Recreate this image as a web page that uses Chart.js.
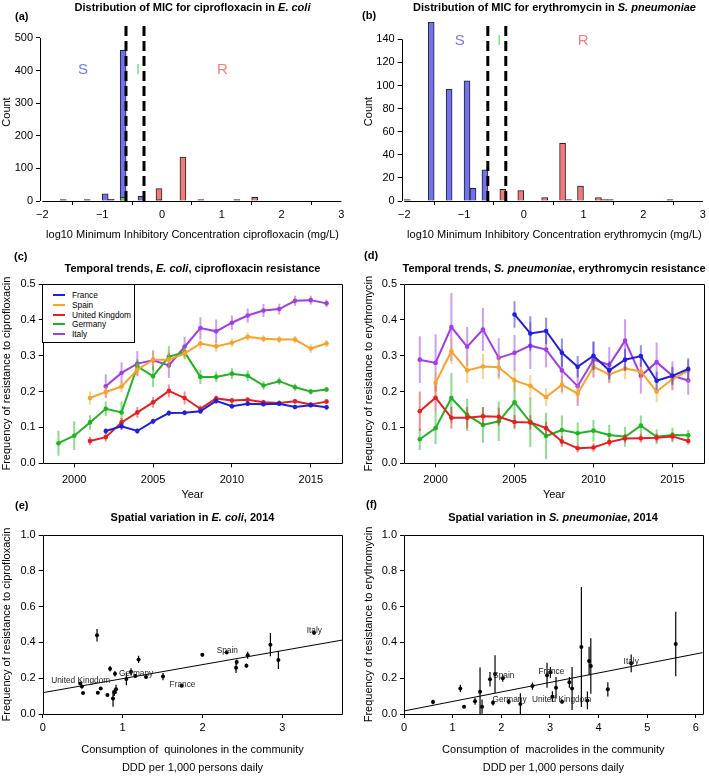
<!DOCTYPE html>
<html>
<head>
<meta charset="utf-8">
<title>MIC distributions and resistance trends</title>
<script src="https://cdn.jsdelivr.net/npm/chart.js@4.4.1/dist/chart.umd.min.js"></script>
<style>
  body { margin: 0; background: #fff; }
  #fig { position: relative; width: 709px; height: 777px; overflow: hidden; font-family: "Liberation Sans", Arial, sans-serif; color: #000; }
  #fig canvas { position: absolute; }
  .ttl { position: absolute; transform: translate(-50%, -50%); font-weight: bold; font-size: 11px; white-space: nowrap; }
  .tag { position: absolute; transform: translateY(-50%); font-weight: bold; font-size: 11px; }
  #legendC { position: absolute; left: 42px; top: 284px; width: 93px; height: 59px; background: #fff; border: 1px solid #000; box-sizing: border-box; font-size: 8.3px; }
  #legendC .swatch { position: absolute; left: 10px; width: 12px; height: 2px; }
  #legendC .lab { position: absolute; left: 29px; transform: translateY(-50%); white-space: nowrap; }
</style>
</head>
<body>
<div id="fig">
  <canvas id="chartA" width="355" height="260" style="left:0px;top:0px"></canvas>
  <canvas id="chartB" width="354" height="260" style="left:355px;top:0px"></canvas>
  <canvas id="chartC" width="355" height="260" style="left:0px;top:260px"></canvas>
  <canvas id="chartD" width="354" height="260" style="left:355px;top:260px"></canvas>
  <canvas id="chartE" width="355" height="257" style="left:0px;top:520px"></canvas>
  <canvas id="chartF" width="354" height="257" style="left:355px;top:520px"></canvas>

  <div class="tag" style="left:15px;top:16px">(a)</div>
  <div class="tag" style="left:362px;top:15px">(b)</div>
  <div class="tag" style="left:14px;top:256px">(c)</div>
  <div class="tag" style="left:364px;top:255px">(d)</div>
  <div class="tag" style="left:15px;top:505px">(e)</div>
  <div class="tag" style="left:366px;top:504px">(f)</div>

  <div class="ttl" style="left:192.5px;top:7px">Distribution of MIC for ciprofloxacin in <i>E. coli</i></div>
  <div class="ttl" style="left:554.5px;top:7px">Distribution of MIC for erythromycin in <i>S. pneumoniae</i></div>
  <div class="ttl" style="left:192.5px;top:268px">Temporal trends, <i>E. coli</i>, ciprofloxacin resistance</div>
  <div class="ttl" style="left:554px;top:268px">Temporal trends, <i>S. pneumoniae</i>, erythromycin resistance</div>
  <div class="ttl" style="left:192.5px;top:517px">Spatial variation in <i>E. coli</i>, 2014</div>
  <div class="ttl" style="left:553px;top:517px">Spatial variation in <i>S. pneumoniae</i>, 2014</div>

  <div id="legendC"></div>
</div>

<script>
// ---------- data ----------

// (a) MIC of ciprofloxacin in E. coli: histogram bin centres (log10 mg/L) and counts
const ecoliSBins = [-1.65, -1.25, -0.95, -0.85, -0.65, -0.35];
const ecoliSCounts = [1, 2, 22, 5, 462, 14];
const ecoliIBins = [-0.65, -0.05];
const ecoliICounts = [12, 3];
const ecoliRBins = [-0.05, 0.35, 0.65, 1.25, 1.55];
const ecoliRCounts = [38, 135, 4, 4, 11];

// (b) MIC of erythromycin in S. pneumoniae
const pneuSBins = [-1.95, -1.55, -1.25, -0.95, -0.85, -0.65];
const pneuSCounts = [1, 155, 97, 104, 11, 27];
const pneuRBins = [-0.35, -0.05, 0.35, 0.65, 0.75, 0.95, 1.25, 1.35, 1.45, 2.45];
const pneuRCounts = [10, 9, 3, 50, 1, 13, 3, 1, 1, 1];

// clinical breakpoints: log10(0.25) and log10(0.5) mg/L
const breakpoints = [-0.602, -0.301];

const micTicks = [-2, -1, 0, 1, 2, 3];
const ecoliCountTicks = [0, 100, 200, 300, 400, 500];
const pneuCountTicks = [0, 20, 40, 60, 80, 100, 120, 140];

// (c), (d) frequency of resistance by year, with error half-widths
const years = [1999, 2000, 2001, 2002, 2003, 2004, 2005, 2006, 2007, 2008, 2009, 2010, 2011, 2012, 2013, 2014, 2015, 2016];
const yearTicks = [2000, 2005, 2010, 2015];
const freqTicksHalf = [0, 0.1, 0.2, 0.3, 0.4, 0.5];
const countries = ['France', 'Spain', 'United Kingdom', 'Germany', 'Italy'];
const countryColors = ['#1f1fdc', '#f7a32b', '#e62020', '#22b322', '#a03ee3'];

const ecoliFrance = [null, null, null, 0.090, 0.103, 0.090, 0.117, 0.140, 0.141, 0.145, 0.174, 0.159, 0.166, 0.165, 0.166, 0.157, 0.162, 0.156];
const ecoliFranceErr = [null, null, null, 0.008, 0.010, 0.008, 0.008, 0.008, 0.007, 0.007, 0.008, 0.007, 0.006, 0.006, 0.006, 0.006, 0.006, 0.006];
const ecoliSpain = [null, null, 0.182, 0.199, 0.214, 0.261, 0.289, 0.289, 0.306, 0.334, 0.326, 0.336, 0.353, 0.347, 0.345, 0.345, 0.320, 0.334];
const ecoliSpainErr = [null, null, 0.018, 0.015, 0.015, 0.018, 0.020, 0.020, 0.015, 0.015, 0.015, 0.012, 0.012, 0.010, 0.010, 0.010, 0.012, 0.010];
const ecoliUK = [null, null, 0.062, 0.073, 0.114, 0.142, 0.170, 0.202, 0.182, 0.152, 0.181, 0.175, 0.177, 0.170, 0.168, 0.173, 0.164, 0.172];
const ecoliUKErr = [null, null, 0.012, 0.012, 0.012, 0.015, 0.015, 0.018, 0.018, 0.010, 0.008, 0.008, 0.008, 0.007, 0.007, 0.007, 0.007, 0.007];
const ecoliGermany = [0.056, 0.077, 0.114, 0.152, 0.142, 0.270, 0.243, 0.297, 0.310, 0.241, 0.241, 0.250, 0.244, 0.217, 0.229, 0.212, 0.200, 0.206];
const ecoliGermanyErr = [0.035, 0.040, 0.020, 0.020, 0.030, 0.020, 0.030, 0.030, 0.020, 0.020, 0.015, 0.015, 0.015, 0.012, 0.010, 0.010, 0.008, 0.007];
const ecoliItaly = [null, null, null, 0.215, 0.252, 0.278, 0.287, 0.273, 0.325, 0.377, 0.368, 0.392, 0.412, 0.426, 0.430, 0.453, 0.455, 0.446];
const ecoliItalyErr = [null, null, null, 0.033, 0.030, 0.035, 0.028, 0.035, 0.028, 0.030, 0.033, 0.020, 0.020, 0.018, 0.015, 0.014, 0.012, 0.010];

const pneuFrance = [null, null, null, null, null, null, 0.415, 0.362, 0.369, 0.308, 0.269, 0.300, 0.259, 0.289, 0.299, 0.230, 0.244, 0.263];
const pneuFranceErr = [null, null, null, null, null, null, 0.037, 0.048, 0.037, 0.040, 0.030, 0.040, 0.025, 0.030, 0.030, 0.025, 0.025, 0.030];
const pneuSpain = [null, 0.224, 0.312, 0.259, 0.270, 0.268, 0.231, 0.216, 0.184, 0.219, 0.194, 0.269, 0.248, 0.264, 0.256, 0.200, 0.235, 0.258];
const pneuSpainErr = [null, 0.030, 0.035, 0.035, 0.035, 0.035, 0.030, 0.030, 0.025, 0.025, 0.025, 0.030, 0.025, 0.030, 0.025, 0.030, 0.030, 0.030];
const pneuUK = [0.145, 0.183, 0.127, 0.127, 0.131, 0.130, 0.115, 0.114, 0.098, 0.061, 0.042, 0.044, 0.059, 0.069, 0.070, 0.071, 0.075, 0.062];
const pneuUKErr = [0.055, 0.040, 0.030, 0.030, 0.025, 0.025, 0.020, 0.020, 0.018, 0.015, 0.012, 0.012, 0.012, 0.012, 0.012, 0.012, 0.012, 0.010];
const pneuGermany = [0.067, 0.098, 0.182, 0.135, 0.107, 0.117, 0.170, 0.115, 0.076, 0.093, 0.084, 0.091, 0.079, 0.074, 0.105, 0.074, 0.079, 0.078];
const pneuGermanyErr = [0.030, 0.045, 0.070, 0.045, 0.050, 0.055, 0.070, 0.070, 0.065, 0.040, 0.030, 0.030, 0.028, 0.028, 0.028, 0.020, 0.020, 0.015];
const pneuItaly = [0.289, 0.280, 0.380, 0.325, 0.373, 0.294, 0.308, 0.328, 0.317, 0.259, 0.215, 0.289, 0.274, 0.342, 0.244, 0.282, 0.244, 0.231];
const pneuItalyErr = [0.065, 0.080, 0.095, 0.055, 0.060, 0.055, 0.050, 0.065, 0.050, 0.060, 0.055, 0.050, 0.050, 0.060, 0.050, 0.055, 0.040, 0.040];

// (e) 2014: quinolone consumption vs ciprofloxacin resistance in E. coli
const quinoloneUse = [0.47, 0.49, 0.505, 0.68, 0.69, 0.726, 0.81, 0.843, 0.88, 0.897, 0.905, 0.918, 1.047, 1.105, 1.16, 1.2, 1.293, 1.506, 1.74, 1.998, 2.303, 2.42, 2.428, 2.55, 2.566, 2.85, 2.95, 3.396];
const ciproResist = [0.171, 0.153, 0.117, 0.44, 0.119, 0.143, 0.106, 0.253, 0.086, 0.121, 0.225, 0.138, 0.196, 0.236, 0.212, 0.305, 0.207, 0.209, 0.158, 0.331, 0.344, 0.259, 0.29, 0.27, 0.328, 0.387, 0.302, 0.454];
const ciproResistErr = [0.008, 0.01, 0.006, 0.035, 0.006, 0.008, 0.006, 0.015, 0.045, 0.02, 0.015, 0.025, 0.035, 0.02, 0.01, 0.02, 0.008, 0.02, 0.005, 0.01, 0.008, 0.03, 0.015, 0.012, 0.02, 0.065, 0.05, 0.01];
const ciproFit = [0.119, 0.0784]; // intercept, slope

// (f) 2014: macrolide consumption vs erythromycin resistance in S. pneumoniae
const macrolideUse = [0.596, 1.158, 1.234, 1.46, 1.563, 1.604, 1.768, 1.83, 1.871, 2.03, 2.152, 2.392, 2.64, 2.94, 3.01, 3.05, 3.125, 3.249, 3.4, 3.455, 3.646, 3.77, 3.805, 3.84, 4.19, 4.67, 5.586];
const erythroResist = [0.067, 0.143, 0.041, 0.071, 0.125, 0.041, 0.194, 0.063, 0.223, 0.2, 0.069, 0.056, 0.156, 0.216, 0.233, 0.097, 0.147, 0.069, 0.177, 0.143, 0.374, 0.076, 0.296, 0.268, 0.138, 0.283, 0.391];
const erythroResistErr = [0.012, 0.02, 0.008, 0.02, 0.135, 0.04, 0.04, 0.015, 0.105, 0.02, 0.015, 0.06, 0.02, 0.07, 0.03, 0.03, 0.06, 0.01, 0.03, 0.12, 0.335, 0.05, 0.08, 0.155, 0.04, 0.05, 0.18];
const erythroFit = [0.017, 0.0531]; // intercept, slope

const freqTicks = [0, 0.2, 0.4, 0.6, 0.8, 1.0];
const quinoloneTicks = [0, 1, 2, 3];
const macrolideTicks = [0, 1, 2, 3, 4, 5, 6];

// ---------- helpers ----------

const FONT = "'Liberation Sans', Arial, sans-serif";
const minus = v => (v < 0 ? '\u2212' + Math.abs(v) : String(v));
const plain = v => String(v);
const oneDec = v => v.toFixed(1);

function fade(hex, a) {
    const n = parseInt(hex.slice(1), 16);
    return `rgba(${n >> 16}, ${(n >> 8) & 255}, ${n & 255}, ${a})`;
}

// R-style axis: outward ticks, no grid, fixed tick values
function rAxis(o) {
    return {
        type: 'linear',
        min: o.min,
        max: o.max,
        offset: false,
        afterBuildTicks: s => { s.ticks = o.ticks.map(v => ({ value: v })); },
        grid: { drawOnChartArea: false, drawTicks: true, tickLength: 4, color: '#000', tickColor: '#000', lineWidth: 1 },
        border: { display: false },
        ticks: { color: '#000', font: { family: FONT, size: 11 }, padding: o.pad, maxRotation: 0, minRotation: 0, autoSkip: false, callback: o.fmt },
        title: { display: true, text: o.title, color: '#000', font: { family: FONT, size: 11, lineHeight: o.lh || 1.2 }, padding: o.titlePad }
    };
}

// box round the plot, or R's open axes that stop at the end ticks
function framePlugin(kind) {
    return {
        id: 'frame',
        afterDatasetsDraw(chart) {
            const { ctx, chartArea: a, scales: { x, y } } = chart;
            const r = v => Math.round(v) + 0.5;
            ctx.save();
            ctx.strokeStyle = '#000';
            ctx.lineWidth = 1;
            ctx.beginPath();
            if (kind === 'box') {
                ctx.rect(r(a.left), r(a.top), Math.round(a.right) - Math.round(a.left), Math.round(a.bottom) - Math.round(a.top));
            } else {
                const xt = x.ticks, yt = y.ticks;
                ctx.moveTo(x.getPixelForValue(xt[0].value), r(a.bottom));
                ctx.lineTo(x.getPixelForValue(xt[xt.length - 1].value), r(a.bottom));
                ctx.moveTo(r(a.left), y.getPixelForValue(yt[0].value));
                ctx.lineTo(r(a.left), y.getPixelForValue(yt[yt.length - 1].value));
            }
            ctx.stroke();
            ctx.restore();
        }
    };
}

// text placed at data coordinates
function notesPlugin(items, font, color) {
    return {
        id: 'notes',
        afterDatasetsDraw(chart) {
            const { ctx, scales: { x, y } } = chart;
            ctx.save();
            ctx.font = font;
            ctx.textAlign = 'center';
            ctx.textBaseline = 'middle';
            items.forEach(n => {
                ctx.fillStyle = n.color || color;
                ctx.fillText(n.text, x.getPixelForValue(n.x), y.getPixelForValue(n.y));
            });
            ctx.restore();
        }
    };
}

// vertical error bars as one broken line: lo, hi, gap
function errorBars(xs, ys, es) {
    const pts = [];
    xs.forEach((x, i) => {
        if (ys[i] == null) return;
        pts.push({ x, y: ys[i] - es[i] }, { x, y: ys[i] + es[i] }, { x, y: null });
    });
    return pts;
}

function histSet(bins, counts, fill, order) {
    return {
        type: 'bar',
        data: bins.map((b, i) => ({ x: b, y: counts[i] })),
        backgroundColor: fill,
        borderColor: '#222',
        borderWidth: 1,
        grouped: false,
        barPercentage: 1,
        categoryPercentage: 1,
        maxBarThickness: 6,
        minBarLength: 1.5,
        order
    };
}

function breakSet(b, top) {
    return {
        type: 'line',
        data: [{ x: b, y: 0 }, { x: b, y: top }],
        borderColor: '#000',
        borderWidth: 3,
        borderDash: [10, 5],
        pointRadius: 0,
        order: 0
    };
}

function trendSets(vals, errs, color) {
    return [
        {
            data: years.map((yr, i) => ({ x: yr, y: vals[i] })),
            borderColor: color,
            backgroundColor: color,
            borderWidth: 2,
            pointRadius: 2.3,
            pointBorderWidth: 0,
            pointBackgroundColor: color,
            spanGaps: false
        },
        {
            data: errorBars(years, vals, errs),
            borderColor: fade(color, 0.5),
            borderWidth: 2,
            pointRadius: 0,
            spanGaps: false
        }
    ];
}

function scatterSets(xs, ys, es, fit, xmax) {
    return [
        {
            data: xs.map((x, i) => ({ x, y: ys[i] })),
            showLine: false,
            pointRadius: 2,
            pointBorderWidth: 0,
            pointBackgroundColor: '#000'
        },
        {
            data: errorBars(xs, ys, es),
            borderColor: '#000',
            borderWidth: 1.2,
            pointRadius: 0,
            spanGaps: false
        },
        {
            data: [{ x: 0, y: fit[0] }, { x: xmax, y: fit[0] + fit[1] * xmax }],
            borderColor: '#000',
            borderWidth: 1,
            pointRadius: 0
        }
    ];
}

function makeChart(id, type, datasets, area, x, y, plugins) {
    const cv = document.getElementById(id);
    x.afterFit = s => { s.height = cv.height - area.bottom; };
    y.afterFit = s => { s.width = area.left; };
    return new Chart(cv, {
        type,
        data: { datasets },
        options: {
            responsive: false,
            animation: false,
            devicePixelRatio: 1,
            events: [],
            layout: { autoPadding: false, padding: { left: 0, bottom: 0, top: area.top, right: cv.width - area.right } },
            plugins: { legend: { display: false }, tooltip: { enabled: false } },
            scales: { x, y }
        },
        plugins
    });
}

// ---------- panels ----------

const S_COL = '#7272ee', I_COL = '#58c858', R_COL = '#f27a7a';

// (a)
makeChart('chartA', 'bar', [
    ...breakpoints.map(b => breakSet(b, 546)),
    histSet(ecoliIBins, ecoliICounts, I_COL, 1),
    histSet(ecoliRBins, ecoliRCounts, R_COL, 2),
    histSet(ecoliSBins, ecoliSCounts, S_COL, 3)
], { left: 40, right: 345, top: 23, bottom: 201 },
rAxis({ min: -2.04, max: 3.06, ticks: micTicks, fmt: minus, pad: 3,
    title: 'log10 Minimum Inhibitory Concentration ciprofloxacin (mg/L)', titlePad: { top: 0, bottom: 18.5 } }),
rAxis({ min: 0, max: 546, ticks: ecoliCountTicks, fmt: plain, pad: 3, title: 'Count', titlePad: { top: 0, bottom: 0 } }),
[framePlugin('axes'), notesPlugin([
    { text: 'S', x: -1.32, y: 402, color: '#7878f0' },
    { text: 'I', x: -0.40, y: 402, color: '#74e074' },
    { text: 'R', x: 1.01, y: 402, color: '#f08080' }
], `15px ${FONT}`, '#000')]);

// (b)
makeChart('chartB', 'bar', [
    ...breakpoints.map(b => breakSet(b, 155)),
    histSet(pneuRBins, pneuRCounts, R_COL, 2),
    histSet(pneuSBins, pneuSCounts, S_COL, 3)
], { left: 46.7, right: 352.3, top: 22, bottom: 201 },
rAxis({ min: -2.044, max: 3.07, ticks: micTicks, fmt: minus, pad: 3,
    title: 'log10 Minimum Inhibitory Concentration erythromycin (mg/L)', titlePad: { top: 0, bottom: 18.5 } }),
rAxis({ min: 0, max: 155, ticks: pneuCountTicks, fmt: plain, pad: 3, title: 'Count', titlePad: { top: 7, bottom: 0 } }),
[framePlugin('axes'), notesPlugin([
    { text: 'S', x: -1.07, y: 139, color: '#7878f0' },
    { text: 'I', x: -0.41, y: 139, color: '#74e074' },
    { text: 'R', x: 0.995, y: 139, color: '#f08080' }
], `15px ${FONT}`, '#000')]);

// (c)
const ecoliSeries = [[ecoliFrance, ecoliFranceErr], [ecoliSpain, ecoliSpainErr], [ecoliUK, ecoliUKErr], [ecoliGermany, ecoliGermanyErr], [ecoliItaly, ecoliItalyErr]];
makeChart('chartC', 'line',
    ecoliSeries.flatMap(([v, e], i) => trendSets(v, e, countryColors[i])),
    { left: 42.7, right: 342.3, top: 24, bottom: 203.3 },
    rAxis({ min: 1998, max: 2017, ticks: yearTicks, fmt: plain, pad: 6, title: 'Year', titlePad: { top: 0, bottom: 18.5 } }),
    rAxis({ min: 0, max: 0.5, ticks: freqTicksHalf, fmt: oneDec, pad: 3,
        title: 'Frequency of resistance to ciprofloxacin', titlePad: { top: 0, bottom: 0 } }),
    [framePlugin('box')]);

// (d)
const pneuSeries = [[pneuFrance, pneuFranceErr], [pneuSpain, pneuSpainErr], [pneuUK, pneuUKErr], [pneuGermany, pneuGermanyErr], [pneuItaly, pneuItalyErr]];
makeChart('chartD', 'line',
    pneuSeries.flatMap(([v, e], i) => trendSets(v, e, countryColors[i])),
    { left: 49, right: 349, top: 24, bottom: 203.3 },
    rAxis({ min: 1998, max: 2017, ticks: yearTicks, fmt: plain, pad: 6, title: 'Year', titlePad: { top: 0, bottom: 18.5 } }),
    rAxis({ min: 0, max: 0.5, ticks: freqTicksHalf, fmt: oneDec, pad: 3,
        title: 'Frequency of resistance to erythromycin', titlePad: { top: 7, bottom: 0 } }),
    [framePlugin('box')]);

// (e)
makeChart('chartE', 'line',
    scatterSets(quinoloneUse, ciproResist, ciproResistErr, ciproFit, 3.75),
    { left: 42.7, right: 342.3, top: 15, bottom: 194 },
    rAxis({ min: 0, max: 3.75, ticks: quinoloneTicks, fmt: plain, pad: 3.5, lh: 1.65,
        title: ['Consumption of  quinolones in the community', 'DDD per 1,000 persons daily'], titlePad: { top: 0, bottom: 0 } }),
    rAxis({ min: 0, max: 1, ticks: freqTicks, fmt: oneDec, pad: 3,
        title: 'Frequency of resistance to ciprofloxacin', titlePad: { top: 0, bottom: 0 } }),
    [framePlugin('box'), notesPlugin([
        { text: 'United Kingdom', x: 0.476, y: 0.184 },
        { text: 'Germany', x: 1.17, y: 0.223 },
        { text: 'France', x: 1.75, y: 0.166 },
        { text: 'Spain', x: 2.31, y: 0.356 },
        { text: 'Italy', x: 3.40, y: 0.464 }
    ], `8.3px ${FONT}`, '#222')]);

// (f)
makeChart('chartF', 'line',
    scatterSets(macrolideUse, erythroResist, erythroResistErr, erythroFit, 6.14),
    { left: 49, right: 347.7, top: 15, bottom: 194 },
    rAxis({ min: 0, max: 6.14, ticks: macrolideTicks, fmt: plain, pad: 3.5, lh: 1.65,
        title: ['Consumption of  macrolides in the community', 'DDD per 1,000 persons daily'], titlePad: { top: 0, bottom: 0 } }),
    rAxis({ min: 0, max: 1, ticks: freqTicks, fmt: oneDec, pad: 3,
        title: 'Frequency of resistance to erythromycin', titlePad: { top: 7, bottom: 0 } }),
    [framePlugin('box'), notesPlugin([
        { text: 'Spain', x: 2.05, y: 0.212 },
        { text: 'France', x: 3.03, y: 0.236 },
        { text: 'Germany', x: 2.17, y: 0.082 },
        { text: 'United Kingdom', x: 3.24, y: 0.082 },
        { text: 'Italy', x: 4.67, y: 0.292 }
    ], `8.3px ${FONT}`, '#222')]);

// legend for (c)
const legendBox = document.getElementById('legendC');
countries.forEach((name, i) => {
    const cy = 10 + i * 9.8;
    legendBox.insertAdjacentHTML('beforeend',
        `<div class="swatch" style="top:${cy - 1}px;background:${countryColors[i]}"></div>` +
        `<div class="lab" style="top:${cy}px">${name}</div>`);
});
</script>
</body>
</html>
